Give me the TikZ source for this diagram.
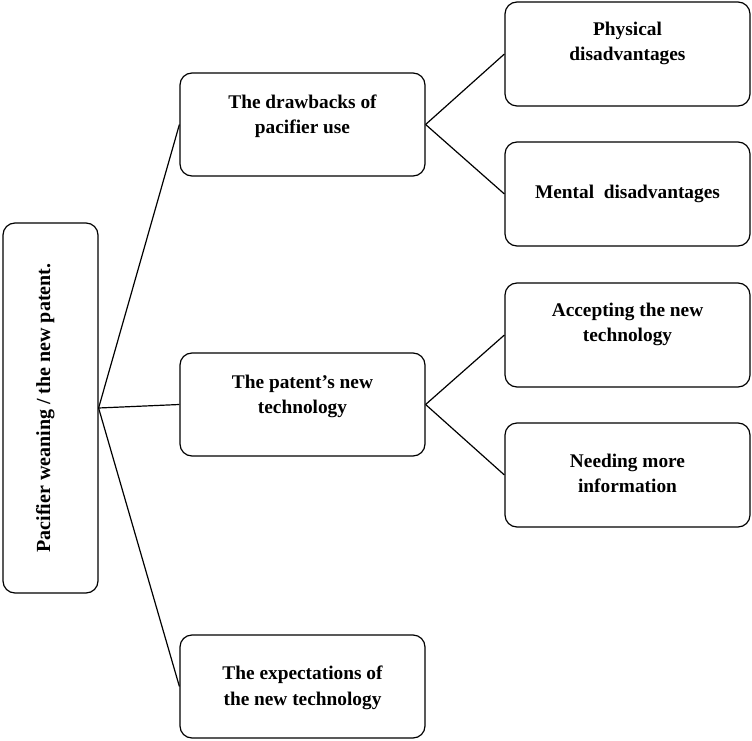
\documentclass[tikz,border=0pt]{standalone}
\usepackage{fontspec}
\setmainfont{Liberation Serif}
\usetikzlibrary{positioning}

\begin{document}
\begin{tikzpicture}[x=0.75pt,y=-0.75pt,
    box/.style={draw,rounded corners=9pt,line width=0.9pt},
    mid/.style={box,minimum width=183.75pt,minimum height=77.25pt},
    leaf/.style={box,minimum width=183.75pt,minimum height=78pt},
    txt/.style={align=center,font=\fontsize{14.5}{19}\selectfont\bfseries,inner sep=0pt},
    link/.style={line width=0.9pt}]
    \useasboundingbox (0,0) rectangle (752,741);
    \node[box,minimum width=71.25pt,minimum height=277.5pt] (root) at (50.5,408) {};
    \node[txt,rotate=90,font=\fontsize{15}{17}\selectfont\bfseries] (roottext) at ([xshift=-4pt]root.center) {Pacifier weaning / the new patent.};
    \node[mid] (m1) at (302.5,124.5) {};
    \node[mid] (m2) at (302.5,404.5) {};
    \node[mid] (m3) at (302.5,686.5) {};
    \node[leaf] (l1) at (627.5,54) {};
    \node[leaf] (l2) at (627.5,194) {};
    \node[leaf] (l3) at (627.5,335) {};
    \node[leaf] (l4) at (627.5,475) {};
    \node[txt] (m1t) at ([yshift=6pt]m1.center) {The drawbacks of\\pacifier use};
    \node[txt] (m2t) at ([yshift=6pt]m2.center) {The patent’s new\\technology};
    \node[txt] (m3t) at ([yshift=-1pt]m3.center) {The expectations of\\the new technology};
    \node[txt] (l1t) at ([yshift=8pt]l1.center) {Physical\\disadvantages};
    \node[txt] (l2t) at (l2.center) {Mental\ \ disadvantages};
    \node[txt] (l3t) at ([yshift=8pt]l3.center) {Accepting the new\\technology};
    \node[txt] (l4t) at ([yshift=1pt]l4.center) {Needing more\\information};

    \draw[link] (root.east) -- (m1.west);
    \draw[link] (root.east) -- (m2.west);
    \draw[link] (root.east) -- (m3.west);
    \draw[link] (m1.east) -- (l1.west);
    \draw[link] (m1.east) -- (l2.west);
    \draw[link] (m2.east) -- (l3.west);
    \draw[link] (m2.east) -- (l4.west);
\end{tikzpicture}
\end{document}
